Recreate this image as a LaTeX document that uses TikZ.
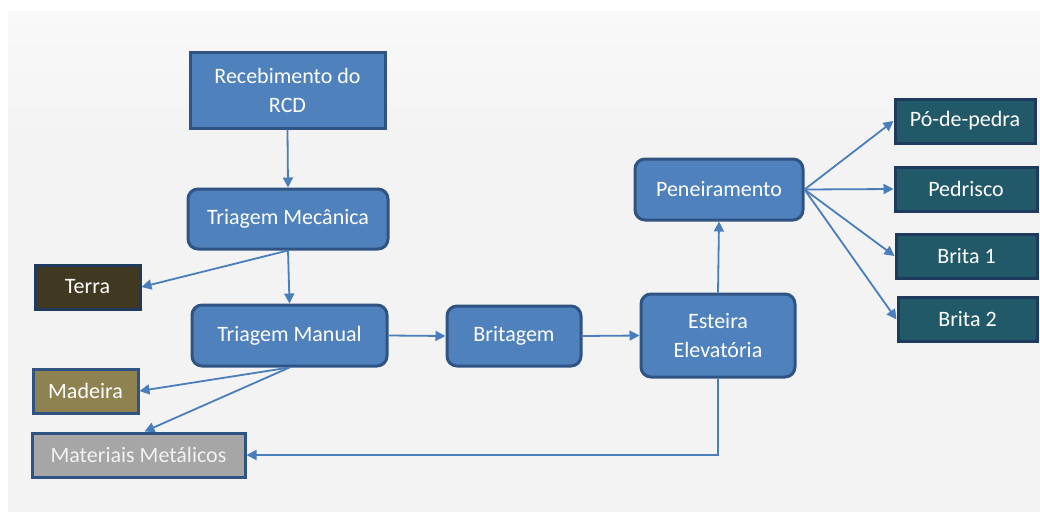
\documentclass[tikz,border=0pt]{standalone}
\usepackage{fontspec}
\setmainfont{Carlito}
\usetikzlibrary{arrows.meta}
\definecolor{bfill}{HTML}{4F81BD}
\definecolor{bline}{HTML}{2F5383}
\definecolor{arr}{HTML}{4A7EBB}
\definecolor{teal}{HTML}{215968}
\definecolor{tealline}{HTML}{1E3A5C}
\definecolor{terra}{HTML}{403821}
\definecolor{madeira}{HTML}{8E8350}
\definecolor{metal}{HTML}{A6A6A6}
\definecolor{bg}{HTML}{F3F3F3}
\tikzset{
  base/.style={draw=bline, line width=3pt, text=white, align=center, inner sep=0pt,
    font=\fontsize{22}{29}\selectfont},
  proc/.style={base, fill=bfill, rounded corners=10pt},
  sqproc/.style={base, fill=bfill},
  prod/.style={base, fill=teal, draw=tealline, minimum height=44pt},
  waste/.style={base, minimum height=44pt},
  conn/.style={draw=arr, line width=1.8pt, -{Triangle[length=10pt,width=10pt]}}
}
\begin{document}
\begin{tikzpicture}[x=1pt,y=-1pt]
\useasboundingbox (0,0) rectangle (1040,519);
\fill[white] (0,0) rectangle (1040,519);
\shade[top color=white!50!bg, bottom color=bg] (8,12) rectangle (1040,140);
\fill[bg] (8,140) rectangle (1040,512);
\node[sqproc, minimum width=195pt, minimum height=75pt] (rec) at (287.5,90.5) {Recebimento do\\RCD};
\node[proc, minimum width=200pt, minimum height=60pt] (tmec) at (288,219) {Triagem Mecânica};
\node[waste, fill=terra, draw=tealline, minimum width=105pt] (terra) at (87.5,287) {Terra};
\node[proc, minimum width=195pt, minimum height=61pt] (tman) at (289.5,335.5) {Triagem Manual};
\node[proc, minimum width=134pt, minimum height=60pt] (brit) at (514,336) {Britagem};
\node[proc, minimum width=154pt, minimum height=83pt] (est) at (718,335.5) {Esteira\\Elevatória};
\node[proc, minimum width=168pt, minimum height=61pt] (pen) at (719,189.5) {Peneiramento};
\node[prod, minimum width=140pt] (po) at (965,121) {Pó-de-pedra};
\node[prod, minimum width=142pt] (ped) at (966,189) {Pedrisco};
\node[prod, minimum width=141pt] (b1) at (966.5,256) {Brita 1};
\node[prod, minimum width=139pt] (b2) at (967.5,319.5) {Brita 2};
\node[waste, fill=madeira, draw=bline, minimum width=105pt] (mad) at (85.5,391) {Madeira};
\node[waste, fill=metal, draw=bline, minimum width=213pt, text=white!95!black] (met) at (138.5,455) {Materiais Metálicos};
\draw[conn] (rec.south) -- (tmec.north);
\draw[conn] (tmec.south) -- (terra.east);
\draw[conn] (tmec.south) -- (tman.north);
\draw[conn] (tman.south) -- (mad.east);
\draw[conn] (tman.south) -- ([xshift=6pt]met.north);
\draw[conn] (tman.east) -- (brit.west);
\draw[conn] (brit.east) -- (est.west);
\draw[conn] (est.north) -- (pen.south);
\draw[conn] (est.south) |- (met.east);
\draw[conn] (pen.east) -- (po.west);
\draw[conn] (pen.east) -- (ped.west);
\draw[conn] (pen.east) -- (b1.west);
\draw[conn] (pen.east) -- (b2.west);
\end{tikzpicture}
\end{document}
